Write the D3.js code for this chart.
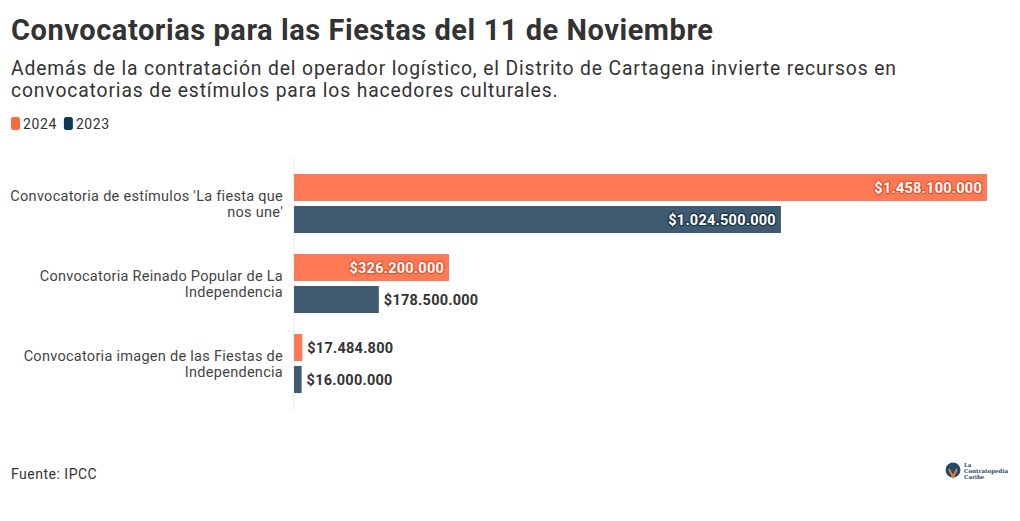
<!DOCTYPE html>
<html><head><meta charset="utf-8">
<script src="https://cdn.jsdelivr.net/npm/d3@7"></script>
<style>
body{margin:0;background:#fff;}
svg{display:block;}
.halo{paint-order:stroke;stroke-linejoin:round;}
</style></head>
<body><svg id="chart" width="1020" height="521"></svg>
<script>
const categories = [
  ["Convocatoria de estímulos 'La fiesta que", "nos une'"],
  ["Convocatoria Reinado Popular de La", "Independencia"],
  ["Convocatoria imagen de las Fiestas de", "Independencia"]
];
const categoryKeys = ["c1","c2","c3"];
const seriesNames = ["2024","2023"];
const values2024 = [1458100000, 326200000, 17484800];
const values2023 = [1024500000, 178500000, 16000000];
const title = "Convocatorias para las Fiestas del 11 de Noviembre";
const subtitle = ["Además de la contratación del operador logístico, el Distrito de Cartagena invierte recursos en",
                  "convocatorias de estímulos para los hacedores culturales."];
const source = "Fuente: IPCC";

const FONT = "Roboto, 'Noto Sans', sans-serif";
const barColors = {"2024":"#FE7A56","2023":"#3E5B72"};
const legendColors = {"2024":"#FF6A3D","2023":"#0E3A59"};
const haloColors = {"2024":"#E2552F","2023":"#1D3448"};

const svg = d3.select("#chart");
svg.append("rect").attr("width",1020).attr("height",521).attr("fill","#fff");

svg.append("text").attr("x",11).attr("y",40).text(title)
  .attr("font-family",FONT).attr("font-weight",700).attr("font-size",29).attr("letter-spacing",0.55).attr("fill","#333");
subtitle.forEach((s,i)=>svg.append("text").attr("x",11).attr("y",75+i*22).text(s)
  .attr("font-family",FONT).attr("font-size",19.3).attr("letter-spacing",0.87).attr("fill","#333"));

// legend
const lg = svg.append("g");
let lx = 11;
seriesNames.forEach(n=>{
  lg.append("rect").attr("x",lx).attr("y",117).attr("width",9).attr("height",13).attr("rx",2.5)
    .attr("fill",legendColors[n]);
  const t = lg.append("text").attr("x",lx+12).attr("y",129).text(n)
    .attr("font-family",FONT).attr("font-size",14).attr("letter-spacing",0.6).attr("fill","#333");
  lx += 12 + t.node().getComputedTextLength() + 7;
});

const x = d3.scaleLinear().domain([0, values2024[0]]).range([294, 987]);
const y0 = d3.scaleBand().domain(categoryKeys).range([163.6, 403.4]).paddingInner(0.2625).paddingOuter(0.13);
const y1 = d3.scaleBand().domain(seriesNames).range([0, y0.bandwidth()]).paddingInner(5/32).paddingOuter(0);

// baseline grid line
svg.append("line").attr("x1",x(0)).attr("x2",x(0)).attr("y1",158).attr("y2",410)
  .attr("stroke","#eaeaea").attr("stroke-width",1);

const fmt = v => "$" + d3.format(",")(v).replace(/,/g,".");

const data = [];
categoryKeys.forEach((k,i)=>{
  data.push({cat:k, s:"2024", v:values2024[i]});
  data.push({cat:k, s:"2023", v:values2023[i]});
});

const bars = svg.append("g");
bars.selectAll("rect").data(data).join("rect")
  .attr("x",x(0)).attr("y",d=>y0(d.cat)+y1(d.s))
  .attr("width",d=>x(d.v)-x(0)).attr("height",y1.bandwidth())
  .attr("fill",d=>barColors[d.s]);

const labels = svg.append("g");
data.forEach(d=>{
  const yy = y0(d.cat)+y1(d.s)+y1.bandwidth()/2;
  const t = labels.append("text").attr("y",yy).attr("dy","0.36em").text(fmt(d.v))
    .attr("font-family",FONT).attr("font-weight",700).attr("font-size",14.5).attr("letter-spacing",0.25);
  const w = t.node().getComputedTextLength();
  if (w + 12 < x(d.v)-x(0)) {
    t.attr("x",x(d.v)-5).attr("text-anchor","end").attr("fill","#fff")
     .attr("class","halo").attr("stroke",haloColors[d.s]).attr("stroke-width",2.5);
  } else {
    t.attr("x",x(d.v)+5).attr("text-anchor","start").attr("fill","#333");
  }
});

// category labels
const cl = svg.append("g");
categoryKeys.forEach((k,i)=>{
  const cy = y0(k)+y0.bandwidth()/2;
  const lines = categories[i];
  lines.forEach((ln,j)=>{
    cl.append("text").attr("x",283).attr("y",cy + (j-(lines.length-1)/2)*16).attr("dy","0.35em")
      .attr("text-anchor","end").text(ln)
      .attr("font-family",FONT).attr("font-size",14.5).attr("letter-spacing",0.28).attr("fill","#444");
  });
});

// source
svg.append("text").attr("x",11).attr("y",479).text(source)
  .attr("font-family",FONT).attr("font-size",14).attr("letter-spacing",0.5).attr("fill","#333");

// logo
const logo = svg.append("g").attr("transform","translate(945,462)");
logo.append("circle").attr("cx",8).attr("cy",8).attr("r",7.5).attr("fill","#1F4A6E");
logo.append("path").attr("d","M4,7 L8,15 L12,7").attr("fill","none").attr("stroke","#F07A2C").attr("stroke-width",2);
["La","Contratopedia","Caribe"].forEach((s,i)=>logo.append("text").attr("x",19).attr("y",5+i*6)
  .text(s).attr("font-family","'DejaVu Serif', serif").attr("font-weight",700).attr("font-size",5.5).attr("fill","#1F4A6E"));
</script></body></html>
